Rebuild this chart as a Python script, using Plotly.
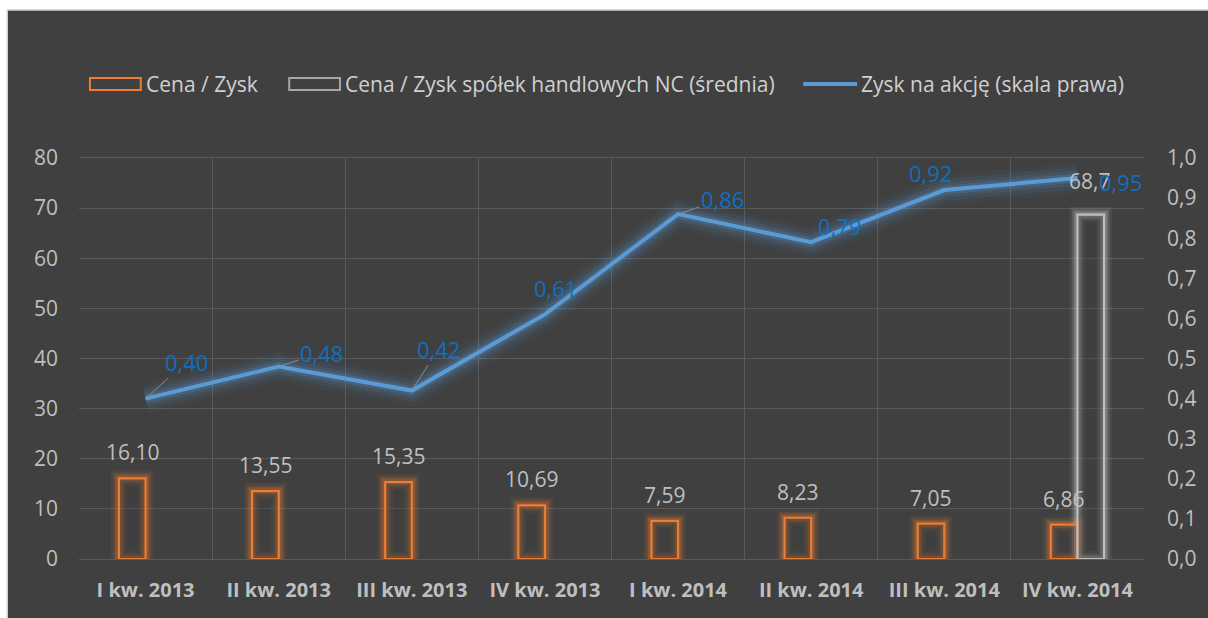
import plotly.graph_objects as go

categories = ["I kw. 2013", "II kw. 2013", "III kw. 2013", "IV kw. 2013",
              "I kw. 2014", "II kw. 2014", "III kw. 2014", "IV kw. 2014"]
pe_company = [16.10, 13.55, 15.35, 10.69, 7.59, 8.23, 7.05, 6.86]
pe_sector = [None, None, None, None, None, None, None, 68.7]
eps = [0.40, 0.48, 0.42, 0.61, 0.86, 0.79, 0.92, 0.95]
series_names = ["Cena / Zysk", "Cena / Zysk spółek handlowych NC (średnia)",
                "Zysk na akcję (skala prawa)"]

# style / layout
W, H = 1208, 618
L, R, T, B = 79, 1148, 158, 559
BG = "#404040"
GRID = "#5A5A5A"
ORANGE = "#ED7D31"
GRAYBAR = "#BFBFBF"
BLUE = "#5B9BD5"
LABBLUE = "#0F6FC0"
TXT = "#BFBFBF"
FONT = "Open Sans"

def px(x):
    return (x - L) / (R - L)

def py(y):
    return (B - y) / (B - T)

# label offsets (pixels) for line labels; arrow flag for leader lines
lab_off = [(41, -37, True), (43, -14, True), (27, -42, True), (11, -26, False),
           (44, -15, True), (28, -16, False), (-14, -17, False), (43, 4, False)]

fig = go.Figure()

bw = 0.2
# glow for bars
for w, a in [(16, 0.08), (11, 0.14), (7, 0.25)]:
    for vals, rgb, off in [(pe_company, "237,125,49", -bw), (pe_sector, "210,210,210", 0.0)]:
        fig.add_trace(go.Bar(x=categories, y=vals, width=bw, offset=off,
                             marker=dict(color="rgba(0,0,0,0)",
                                         line=dict(color=f"rgba({rgb},{a})", width=w)),
                             showlegend=False, hoverinfo="skip"))
fig.add_trace(go.Bar(x=categories, y=pe_company, width=bw, offset=-bw, name=series_names[0],
                     marker=dict(color="rgba(64,64,64,0.35)", line=dict(color=ORANGE, width=2.2)),
                     showlegend=False))
fig.add_trace(go.Bar(x=categories, y=pe_sector, width=bw, offset=0.0, name=series_names[1],
                     marker=dict(color="rgba(64,64,64,0.35)", line=dict(color=GRAYBAR, width=2.2)),
                     showlegend=False))

# line glow
for w, a in [(30, 0.05), (22, 0.08), (15, 0.12), (9, 0.2)]:
    fig.add_trace(go.Scatter(x=categories, y=eps, yaxis="y2", mode="lines",
                             line=dict(color=f"rgba(91,155,213,{a})", width=w),
                             showlegend=False, hoverinfo="skip"))
fig.add_trace(go.Scatter(x=categories, y=eps, yaxis="y2", mode="lines", name=series_names[2],
                         line=dict(color=BLUE, width=4), showlegend=False))

annotations = []
# bar labels
for i, v in enumerate(pe_company):
    annotations.append(dict(x=i, y=v, xref="x", yref="y", text=f"{v:.2f}".replace(".", ","),
                            showarrow=False, xshift=-13.5, yshift=26,
                            font=dict(family=FONT, size=21, color=TXT)))
for i, v in enumerate(pe_sector):
    if v is not None:
        annotations.append(dict(x=i, y=v, xref="x", yref="y", text=f"{v:.1f}".replace(".", ","),
                                showarrow=False, xshift=12, yshift=34,
                                font=dict(family=FONT, size=21, color=TXT)))
# line labels
for i, v in enumerate(eps):
    dx, dy, arrow = lab_off[i]
    txt = f"{v:.2f}".replace(".", ",")
    if arrow:
        annotations.append(dict(x=i, y=v, xref="x", yref="y2", text=txt, showarrow=True,
                                ax=dx, ay=dy, arrowhead=0, arrowwidth=1, arrowcolor="#8C8C8C",
                                font=dict(family=FONT, size=22, color=LABBLUE)))
    else:
        annotations.append(dict(x=i, y=v, xref="x", yref="y2", text=txt, showarrow=False,
                                xshift=dx, yshift=-dy,
                                font=dict(family=FONT, size=22, color=LABBLUE)))

# background frame and manual legend
shapes = [dict(type="rect", xref="paper", yref="paper", x0=px(7), x1=px(1215), y0=py(625), y1=py(10),
               fillcolor=BG, line=dict(color="#D0D0D0", width=1.5), layer="below")]
leg_y = 84
shapes.append(dict(type="rect", xref="paper", yref="paper", x0=px(90), x1=px(141),
                   y0=py(leg_y + 6), y1=py(leg_y - 6), line=dict(color=ORANGE, width=2),
                   fillcolor="rgba(0,0,0,0)"))
shapes.append(dict(type="rect", xref="paper", yref="paper", x0=px(290), x1=px(341),
                   y0=py(leg_y + 6), y1=py(leg_y - 6), line=dict(color="#A6A6A6", width=2),
                   fillcolor="rgba(0,0,0,0)"))
shapes.append(dict(type="line", xref="paper", yref="paper", x0=px(806), x1=px(860),
                   y0=py(leg_y), y1=py(leg_y), line=dict(color=BLUE, width=4)))
for xpos, name in zip([144, 344, 862], series_names):
    annotations.append(dict(x=px(xpos), y=py(leg_y), xref="paper", yref="paper", text=name,
                            showarrow=False, xanchor="left", yanchor="middle",
                            font=dict(family=FONT, size=21, color="#D0D0D0")))

fig.update_layout(
    width=W, height=H,
    margin=dict(l=L, r=W - R, t=T, b=H - B, pad=0),
    paper_bgcolor="white", plot_bgcolor="rgba(0,0,0,0)",
    barmode="overlay", separators=", ",
    showlegend=False,
    font=dict(family=FONT, color=TXT),
    xaxis=dict(type="category", range=[-0.5, 7.5], tickson="boundaries", showgrid=True,
               gridcolor=GRID, gridwidth=1, ticks="", ticklen=0, showline=True, mirror=True,
               linecolor=GRID, linewidth=1, zeroline=False, ticklabelstandoff=13,
               tickfont=dict(family=FONT, size=20, color=TXT, weight="bold")),
    yaxis=dict(range=[0, 80], dtick=10, showgrid=True, gridcolor=GRID, gridwidth=1,
               zeroline=False, ticks="", tickfont=dict(family=FONT, size=21, color=TXT),
               ticklabelstandoff=20),
    yaxis2=dict(range=[0, 1.0], dtick=0.1, tickformat=".1f", overlaying="y", side="right",
                showgrid=False, zeroline=False, ticks="",
                tickfont=dict(family=FONT, size=21, color=TXT), ticklabelstandoff=22),
    annotations=annotations, shapes=shapes,
)

fig.write_html("out.html", config={"displayModeBar": False},
               post_script="document.body.style.margin='0px';document.body.style.overflow='hidden';")
